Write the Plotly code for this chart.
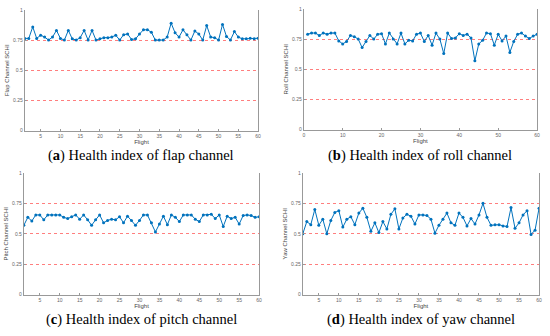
import plotly.graph_objects as go

flights = list(range(1, 61))

flap_schi = [0.764, 0.764, 0.859, 0.764, 0.79, 0.775, 0.75, 0.775, 0.83, 0.764,
             0.75, 0.83, 0.76, 0.75, 0.77, 0.83, 0.75, 0.83, 0.75, 0.76,
             0.77, 0.77, 0.775, 0.79, 0.75, 0.795, 0.80, 0.755, 0.76, 0.80,
             0.835, 0.835, 0.815, 0.75, 0.75, 0.75, 0.775, 0.89, 0.81, 0.775,
             0.835, 0.795, 0.75, 0.825, 0.80, 0.75, 0.87, 0.775, 0.77, 0.75,
             0.88, 0.78, 0.75, 0.82, 0.775, 0.76, 0.76, 0.765, 0.76, 0.765]

roll_schi = [0.79, 0.80, 0.80, 0.78, 0.80, 0.79, 0.80, 0.80, 0.735, 0.71,
             0.73, 0.78, 0.77, 0.75, 0.68, 0.73, 0.78, 0.75, 0.79, 0.795,
             0.71, 0.80, 0.75, 0.71, 0.80, 0.71, 0.74, 0.735, 0.79, 0.80,
             0.73, 0.78, 0.70, 0.80, 0.75, 0.63, 0.80, 0.755, 0.76, 0.795,
             0.78, 0.79, 0.76, 0.57, 0.71, 0.74, 0.80, 0.795, 0.70, 0.79,
             0.735, 0.775, 0.64, 0.73, 0.79, 0.80, 0.775, 0.755, 0.775, 0.79]

pitch_schi = [0.57, 0.635, 0.605, 0.655, 0.655, 0.615, 0.655, 0.655, 0.655, 0.655,
              0.635, 0.625, 0.64, 0.655, 0.62, 0.655, 0.615, 0.57, 0.615, 0.655,
              0.59, 0.61, 0.62, 0.615, 0.64, 0.59, 0.645, 0.61, 0.57, 0.61,
              0.655, 0.655, 0.59, 0.515, 0.58, 0.645, 0.575, 0.655, 0.635, 0.60,
              0.655, 0.655, 0.655, 0.62, 0.60, 0.655, 0.655, 0.66, 0.625, 0.655,
              0.56, 0.645, 0.625, 0.635, 0.58, 0.65, 0.655, 0.65, 0.635, 0.64]

yaw_schi = [0.50, 0.60, 0.575, 0.70, 0.57, 0.62, 0.50, 0.61, 0.675, 0.69,
            0.555, 0.62, 0.64, 0.575, 0.67, 0.71, 0.635, 0.52, 0.59, 0.51,
            0.60, 0.54, 0.66, 0.705, 0.54, 0.63, 0.66, 0.645, 0.58, 0.655,
            0.655, 0.65, 0.62, 0.505, 0.57, 0.62, 0.67, 0.59, 0.57, 0.67,
            0.635, 0.565, 0.625, 0.58, 0.655, 0.75, 0.635, 0.57, 0.575, 0.575,
            0.565, 0.56, 0.715, 0.545, 0.59, 0.655, 0.69, 0.495, 0.53, 0.71]

y_ticks = [0, 0.25, 0.5, 0.75, 1]
y_tick_labels = ["0", "0.25", "0.5", "0.75", "1"]
x_ticks_a = [5, 10, 15, 20, 25, 30, 35, 40, 45, 50, 55, 60]
x_ticks_b = [0, 10, 20, 30, 40, 50, 60]

panels = [
    dict(y=flap_schi, ytitle="Flap Channel SCHI", xr=[1, 60], xt=x_ticks_a,
         xd=[24/550, 259/550], yd=[1-130/336, 1-7/336],
         cap="(<b>a</b>) Health index of flap channel"),
    dict(y=roll_schi, ytitle="Roll Channel SCHI", xr=[0, 60], xt=x_ticks_b,
         xd=[305/550, 540/550], yd=[1-129/336, 1-6/336],
         cap="(<b>b</b>) Health index of roll channel"),
    dict(y=pitch_schi, ytitle="Pitch Channel SCHI", xr=[1, 60], xt=x_ticks_a,
         xd=[23/550, 260/550], yd=[1-297/336, 1-173/336],
         cap="(<b>c</b>) Health index of pitch channel"),
    dict(y=yaw_schi, ytitle="Yaw Channel SCHI", xr=[1, 60], xt=x_ticks_a,
         xd=[304/550, 542/550], yd=[1-297/336, 1-173/336],
         cap="(<b>d</b>) Health index of yaw channel"),
]

fig = go.Figure()
tick_font = dict(family="Liberation Sans, Arial", size=5, color="#666666")
annotations = []
for i, p in enumerate(panels):
    n = "" if i == 0 else str(i + 1)
    fig.add_trace(go.Scatter(
        x=flights, y=p["y"], mode="lines+markers",
        line=dict(color="#0072BD", width=1),
        marker=dict(color="#0072BD", size=3),
        xaxis="x" + n, yaxis="y" + n, showlegend=False))
    fig.layout["xaxis" + n] = dict(
        domain=p["xd"], anchor="y" + n, range=p["xr"], tickvals=p["xt"],
        showgrid=False, zeroline=False, showline=True, linecolor="#999999",
        linewidth=1, ticks="inside", ticklen=2, tickcolor="#999999",
        tickfont=tick_font,
        title=dict(text="Flight", font=dict(family="Liberation Sans, Arial", size=6, color="#444444"),
                   standoff=1))
    fig.layout["yaxis" + n] = dict(
        domain=p["yd"], anchor="x" + n, range=[0, 1], tickvals=y_ticks,
        ticktext=y_tick_labels, showgrid=True, gridcolor="rgba(255,40,40,0.6)",
        griddash="dot", gridwidth=1, zeroline=False, showline=True,
        linecolor="#999999", linewidth=1, mirror=True, ticks="inside", ticklen=2,
        tickcolor="#999999", tickfont=tick_font,
        title=dict(text=p["ytitle"], font=dict(family="Liberation Sans, Arial", size=6, color="#444444"),
                   standoff=2))
    cap_y = 1 - (155/336 if i < 2 else 322/336)
    annotations.append(dict(
        text=p["cap"], x=(p["xd"][0] + p["xd"][1]) / 2, y=cap_y,
        xref="paper", yref="paper", showarrow=False, xanchor="center", yanchor="middle",
        font=dict(family="Liberation Serif, Times New Roman", size=14.5, color="#000000")))

fig.update_layout(
    width=550, height=336, margin=dict(l=0, r=0, t=0, b=0),
    paper_bgcolor="white", plot_bgcolor="white",
    annotations=annotations)

fig.write_html("out.html", config={"displayModeBar": False})

with open("out.html", "r", encoding="utf-8") as f:
    html = f.read()
html = html.replace("<head>", "<head><style>html,body{margin:0;padding:0;overflow:hidden;}</style>", 1)
with open("out.html", "w", encoding="utf-8") as f:
    f.write(html)
